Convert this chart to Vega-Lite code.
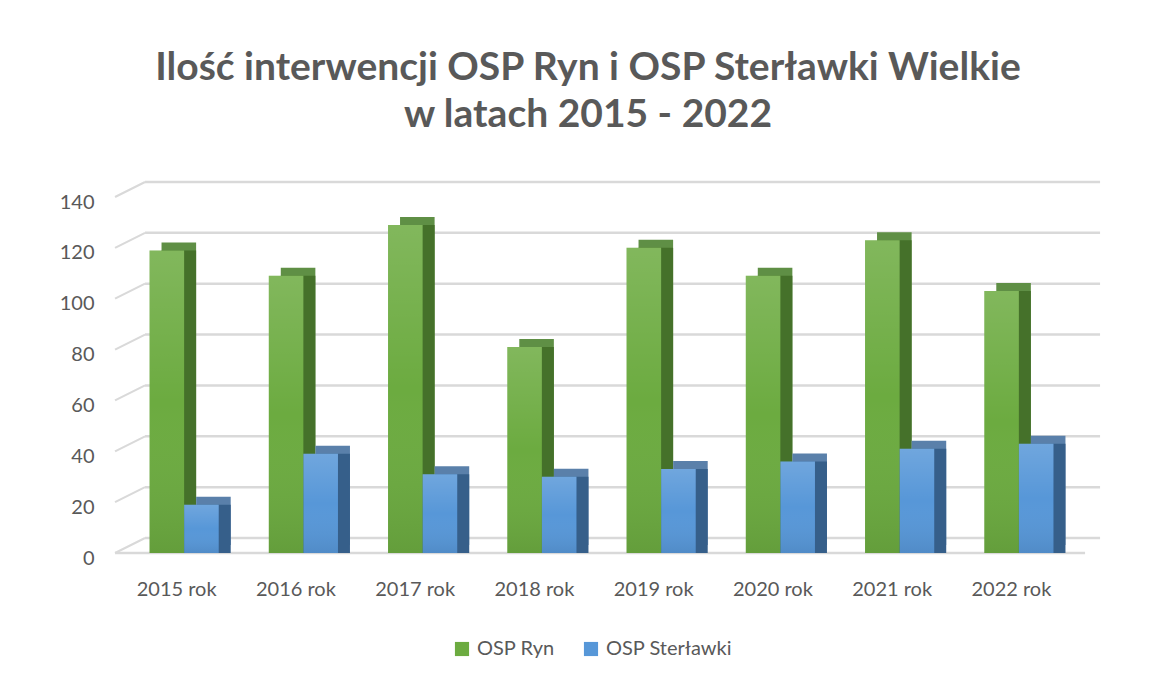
{
  "$schema": "https://vega.github.io/schema/vega-lite/v6.json",
  "width": 954,
  "height": 356,
  "autosize": "none",
  "padding": {"left": 117, "top": 197, "right": 82, "bottom": 130},
  "background": "white",
  "title": {
    "text": ["Ilość interwencji OSP Ryn i OSP Sterławki Wielkie", "w latach 2015 - 2022"],
    "font": "Lato",
    "fontSize": 39,
    "fontWeight": "bold",
    "color": "#595959",
    "anchor": "middle",
    "offset": 46,
    "lineHeight": 47,
    "dx": -6
  },
  "config": {
    "view": {"stroke": null},
    "axis": {"labelFont": "Lato", "labelFontSize": 20, "labelColor": "#595959", "title": null},
    "axisY": {"grid": false, "domain": false, "ticks": false, "labelPadding": 23, "tickCount": 7, "labelOffset": 5},
    "axisX": {"grid": false, "domain": false, "ticks": false, "labelPadding": 26, "labelAngle": 0},
    "legend": {"labelFont": "Lato", "labelFontSize": 20, "labelColor": "#595959"}
  },
  "datasets": {
    "main": [
      {"year": "2015 rok", "series": "OSP Ryn", "value": 119},
      {"year": "2015 rok", "series": "OSP Sterławki", "value": 19},
      {"year": "2016 rok", "series": "OSP Ryn", "value": 109},
      {"year": "2016 rok", "series": "OSP Sterławki", "value": 39},
      {"year": "2017 rok", "series": "OSP Ryn", "value": 129},
      {"year": "2017 rok", "series": "OSP Sterławki", "value": 31},
      {"year": "2018 rok", "series": "OSP Ryn", "value": 81},
      {"year": "2018 rok", "series": "OSP Sterławki", "value": 30},
      {"year": "2019 rok", "series": "OSP Ryn", "value": 120},
      {"year": "2019 rok", "series": "OSP Sterławki", "value": 33},
      {"year": "2020 rok", "series": "OSP Ryn", "value": 109},
      {"year": "2020 rok", "series": "OSP Sterławki", "value": 36},
      {"year": "2021 rok", "series": "OSP Ryn", "value": 123},
      {"year": "2021 rok", "series": "OSP Sterławki", "value": 41},
      {"year": "2022 rok", "series": "OSP Ryn", "value": 103},
      {"year": "2022 rok", "series": "OSP Sterławki", "value": 43}
    ],
    "grid": [{"v": 0}, {"v": 20}, {"v": 40}, {"v": 60}, {"v": 80}, {"v": 100}, {"v": 120}, {"v": 140}]
  },
  "layer": [
    {
      "data": {"name": "grid"},
      "mark": {"type": "rule", "color": "#d9d9d9", "strokeWidth": 2.5, "xOffset": -14.3, "x2Offset": 71.4, "yOffset": -15, "y2Offset": -15},
      "encoding": {
        "x": {"datum": "2015 rok", "type": "nominal", "bandPosition": 0, "scale": {"domain": ["2015 rok", "2016 rok", "2017 rok", "2018 rok", "2019 rok", "2020 rok", "2021 rok", "2022 rok"], "paddingInner": 0.71, "paddingOuter": 0.355}, "title": null},
        "x2": {"datum": "2022 rok", "bandPosition": 1},
        "y": {"field": "v", "type": "quantitative", "scale": {"domain": [0, 140]}, "title": null},
        "y2": {"field": "v"}
      }
    },
    {
      "data": {"name": "grid"},
      "mark": {"type": "rule", "color": "#d9d9d9", "strokeWidth": 2, "xOffset": -44.3, "x2Offset": -14.3, "y2Offset": -15},
      "encoding": {
        "x": {"datum": "2015 rok", "type": "nominal", "bandPosition": 0, "title": null},
        "x2": {"datum": "2015 rok", "bandPosition": 0},
        "y": {"field": "v", "type": "quantitative", "title": null},
        "y2": {"field": "v"}
      }
    },
    {
      "data": {"name": "grid"},
      "transform": [{"filter": "datum.v == 0"}],
      "mark": {"type": "rule", "color": "#d9d9d9", "strokeWidth": 2.5, "xOffset": -44.3, "x2Offset": 56.4},
      "encoding": {
        "x": {"datum": "2015 rok", "type": "nominal", "bandPosition": 0, "title": null},
        "x2": {"datum": "2022 rok", "bandPosition": 1},
        "y": {"field": "v", "type": "quantitative", "title": null},
        "y2": {"field": "v"}
      }
    },
    {
      "data": {"name": "main"},
      "transform": [{"filter": "datum.series == 'OSP Ryn'"}],
      "mark": {"type": "bar", "color": "#5f8f45", "xOffset": 2.2, "x2Offset": 2.2, "yOffset": -8, "y2Offset": -8},
      "encoding": {
        "x": {"field": "year", "type": "nominal", "sort": null, "title": null},
        "y": {"field": "value", "type": "quantitative", "title": null}
      }
    },
    {
      "data": {"name": "main"},
      "transform": [{"filter": "datum.series == 'OSP Ryn'"}],
      "mark": {"type": "bar", "color": "#45712a", "xOffset": 2.2, "x2Offset": 2.2},
      "encoding": {
        "x": {"field": "year", "type": "nominal", "sort": null, "title": null},
        "y": {"field": "value", "type": "quantitative", "title": null}
      }
    },
    {
      "data": {"name": "main"},
      "transform": [{"filter": "datum.series == 'OSP Sterławki'"}],
      "mark": {"type": "bar", "color": "#5a80aa", "xOffset": 36.8, "x2Offset": 36.8, "yOffset": -8, "y2Offset": -8},
      "encoding": {
        "x": {"field": "year", "type": "nominal", "sort": null, "title": null},
        "y": {"field": "value", "type": "quantitative", "title": null}
      }
    },
    {
      "data": {"name": "main"},
      "transform": [{"filter": "datum.series == 'OSP Sterławki'"}],
      "mark": {"type": "bar", "color": "#365f8a", "xOffset": 36.8, "x2Offset": 36.8},
      "encoding": {
        "x": {"field": "year", "type": "nominal", "sort": null, "title": null},
        "y": {"field": "value", "type": "quantitative", "title": null}
      }
    },
    {
      "data": {"name": "main"},
      "transform": [{"filter": "datum.series == 'OSP Ryn'"}],
      "mark": {"type": "bar", "xOffset": -9.8, "x2Offset": -9.8},
      "encoding": {
        "x": {"field": "year", "type": "nominal", "sort": null, "title": null},
        "y": {"field": "value", "type": "quantitative", "title": null},
        "color": {
          "field": "series", "type": "nominal",
          "scale": {"domain": ["OSP Ryn", "OSP Sterławki"], "range": ["#6cab40", "#5797d8"]},
          "legend": {
            "title": null, "orient": "none", "legendX": 335, "legendY": 442,
            "direction": "horizontal", "symbolType": "square", "symbolSize": 200,
            "symbolStrokeWidth": 0, "columnPadding": 26, "labelOffset": 5
          }
        }
      }
    },
    {
      "data": {"name": "main"},
      "transform": [{"filter": "datum.series == 'OSP Sterławki'"}],
      "mark": {"type": "bar", "xOffset": 24.8, "x2Offset": 24.8},
      "encoding": {
        "x": {"field": "year", "type": "nominal", "sort": null, "title": null},
        "y": {"field": "value", "type": "quantitative", "title": null},
        "color": {"field": "series", "type": "nominal"}
      }
    },
    {
      "data": {"name": "main"},
      "transform": [{"filter": "datum.series == 'OSP Ryn'"}],
      "mark": {
        "type": "bar", "xOffset": -9.8, "x2Offset": -9.8,
        "fill": {
          "gradient": "linear", "x1": 0, "y1": 0, "x2": 0, "y2": 1,
          "stops": [
            {"offset": 0, "color": "rgba(255,255,255,0.15)"},
            {"offset": 0.5, "color": "rgba(255,255,255,0.0)"},
            {"offset": 1, "color": "rgba(0,0,0,0.08)"}
          ]
        }
      },
      "encoding": {
        "x": {"field": "year", "type": "nominal", "sort": null, "title": null},
        "y": {"field": "value", "type": "quantitative", "title": null}
      }
    },
    {
      "data": {"name": "main"},
      "transform": [{"filter": "datum.series == 'OSP Sterławki'"}],
      "mark": {
        "type": "bar", "xOffset": 24.8, "x2Offset": 24.8,
        "fill": {
          "gradient": "linear", "x1": 0, "y1": 0, "x2": 0, "y2": 1,
          "stops": [
            {"offset": 0, "color": "rgba(255,255,255,0.15)"},
            {"offset": 0.5, "color": "rgba(255,255,255,0.0)"},
            {"offset": 1, "color": "rgba(0,0,0,0.08)"}
          ]
        }
      },
      "encoding": {
        "x": {"field": "year", "type": "nominal", "sort": null, "title": null},
        "y": {"field": "value", "type": "quantitative", "title": null}
      }
    }
  ]
}
